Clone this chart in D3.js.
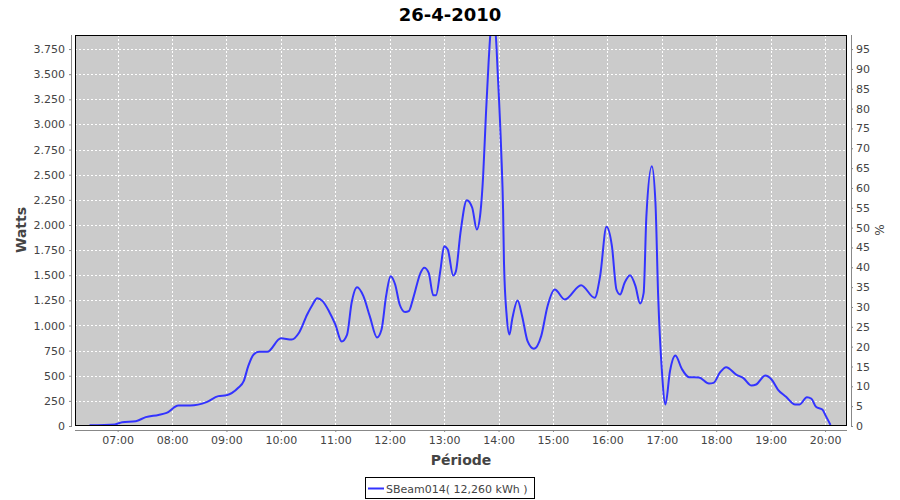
<!DOCTYPE html>
<html><head><meta charset="utf-8">
<script src="https://cdn.jsdelivr.net/npm/d3@7"></script>
<style>body{margin:0;background:#fff}svg{display:block}</style>
</head><body><svg id="c" width="900" height="500"></svg>
<script>
const title = "26-4-2010";
const seriesName = "SBeam014( 12,260 kWh )";
const times = ["06:29","06:57","07:05","07:20","07:31","07:45","07:54","08:07","08:20","08:38","08:51","09:00","09:13","09:19","09:24","09:30","09:36","09:45","10:00","10:12","10:20","10:29","10:35","10:40","10:46","10:53","11:00","11:07","11:13","11:18","11:24","11:31","11:38","11:46","11:51","11:56","12:01","12:06","12:11","12:17","12:21","12:26","12:34","12:38","12:43","12:48","12:51","12:56","13:00","13:04","13:10","13:13","13:18","13:25","13:31","13:36","13:40","13:43","13:46","13:49","13:52","13:54","13:57","13:59","14:03","14:05","14:06","14:09","14:12","14:15","14:21","14:26","14:32","14:39","14:47","14:54","15:02","15:13","15:31","15:46","15:52","15:59","16:05","16:10","16:14","16:19","16:25","16:31","16:36","16:40","16:43","16:49","16:53","16:56","17:00","17:04","17:09","17:15","17:22","17:30","17:41","17:52","17:57","18:04","18:11","18:22","18:30","18:39","18:44","18:54","19:01","19:08","19:17","19:27","19:32","19:40","19:45","19:50","19:57","20:01","20:06"];
const watts = [8,16,38,48,88,110,130,204,204,237,297,306,380,446,595,711,738,738,872,860,927,1109,1209,1272,1242,1142,1010,841,910,1226,1381,1292,1093,881,960,1292,1491,1408,1209,1133,1142,1275,1524,1574,1524,1301,1301,1557,1789,1756,1497,1540,1922,2247,2171,1955,2121,2485,3082,3614,3990,4030,3880,3530,2718,2154,1624,1093,910,1060,1249,1093,844,768,894,1192,1358,1259,1401,1275,1491,1982,1789,1358,1308,1425,1500,1391,1219,1325,2088,2585,2221,1292,562,214,545,701,569,486,483,423,429,530,585,512,476,403,413,502,463,363,290,214,214,287,271,191,164,98,10];
const wattTicks = [0,250,500,750,1000,1250,1500,1750,2000,2250,2500,2750,3000,3250,3500,3750];
const wattLabels = ["0","250","500","750","1.000","1.250","1.500","1.750","2.000","2.250","2.500","2.750","3.000","3.250","3.500","3.750"];
const pctTicks = [0,5,10,15,20,25,30,35,40,45,50,55,60,65,70,75,80,85,90,95];
const hourTicks = ["07:00","08:00","09:00","10:00","11:00","12:00","13:00","14:00","15:00","16:00","17:00","18:00","19:00","20:00"];

const parse = d3.timeParse("%H:%M");
const data = times.map((t,i)=>({t:parse(t), w:watts[i]}));
const svg = d3.select("#c");
const L=75,R=847,T=35,B=426;
const font = "DejaVu Sans, Tahoma, sans-serif";
const x = d3.scaleTime().domain([parse("06:13"), new Date(parse("20:24").getTime()+12000)]).range([L,R]);
const y = d3.scaleLinear().domain([0,3890]).range([B,T]);
const y2 = d3.scaleLinear().domain([0,98.55]).range([B,T]);

svg.append("text").attr("x",450).attr("y",21).attr("text-anchor","middle")
  .attr("font-family",font).attr("font-weight","bold").attr("font-size",18).text(title);

svg.append("rect").attr("x",L).attr("y",T).attr("width",R-L).attr("height",B-T).attr("fill","#cbcbcb");
// grid
const g = svg.append("g");
g.selectAll("line.h").data(wattTicks.filter(d=>d>0)).join("line")
  .attr("x1",L).attr("x2",R).attr("y1",d=>Math.round(y(d))+0.5).attr("y2",d=>Math.round(y(d))+0.5)
  .attr("stroke","#fff").attr("stroke-dasharray","2,2");
g.selectAll("line.v").data(hourTicks).join("line")
  .attr("y1",T).attr("y2",B).attr("x1",d=>Math.round(x(parse(d)))+0.5).attr("x2",d=>Math.round(x(parse(d)))+0.5)
  .attr("stroke","#fff").attr("stroke-dasharray","2,2");

svg.append("clipPath").attr("id","clip").append("rect").attr("x",L).attr("y",T).attr("width",R-L).attr("height",B-T);
const line = d3.line().x(d=>x(d.t)).y(d=>y(d.w)).curve(d3.curveMonotoneX);
svg.append("path").datum(data).attr("clip-path","url(#clip)").attr("d",line)
  .attr("fill","none").attr("stroke","#3333ff").attr("stroke-width",2);

svg.append("rect").attr("x",L+0.5).attr("y",T+0.5).attr("width",R-L-1).attr("height",B-T-1)
  .attr("fill","none").attr("stroke","#000").attr("stroke-width",1);

// left axis
const la = svg.append("g").attr("transform","translate(71,0)")
  .call(d3.axisLeft(y).tickValues(wattTicks).tickFormat((d,i)=>wattLabels[i]).tickSize(2).tickSizeOuter(0).tickPadding(4));
// right axis
const ra = svg.append("g").attr("transform","translate(851,0)")
  .call(d3.axisRight(y2).tickValues(pctTicks).tickSize(2).tickSizeOuter(0).tickPadding(3));
// x axis
const xa = svg.append("g").attr("transform","translate(0,430)")
  .call(d3.axisBottom(x).tickValues(hourTicks.map(parse)).tickFormat(d3.timeFormat("%H:%M")).tickSize(2).tickSizeOuter(0).tickPadding(4));
[la,ra,xa].forEach(a=>{
  a.selectAll("path.domain").attr("stroke","#888");
  a.selectAll(".tick line").attr("stroke","#888");
  a.selectAll("text").attr("font-family",font).attr("font-size",11).attr("fill","#444");
});
la.select("path.domain").attr("d",`M0.5,${T}V${B+1}`);
ra.select("path.domain").attr("d",`M0.5,${T}V${B+1}`);
xa.select("path.domain").attr("d",`M${L},0.5H${R}`);

svg.append("text").attr("transform","translate(26,230) rotate(-90)").attr("text-anchor","middle")
  .attr("font-family",font).attr("font-weight","bold").attr("font-size",14).attr("fill","#444").text("Watts");
svg.append("text").attr("transform","translate(884,230) rotate(-90)").attr("text-anchor","middle")
  .attr("font-family",font).attr("font-size",12).attr("fill","#444").text("%");
svg.append("text").attr("x",461).attr("y",465).attr("text-anchor","middle")
  .attr("font-family",font).attr("font-weight","bold").attr("font-size",14).attr("fill","#444").text("Période");

// legend
const lg = svg.append("g");
lg.append("rect").attr("x",365.5).attr("y",477.5).attr("width",169).attr("height",21).attr("fill","#fff").attr("stroke","#000");
lg.append("line").attr("x1",368).attr("x2",384).attr("y1",488.5).attr("y2",488.5).attr("stroke","#3333ff").attr("stroke-width",2);
lg.append("text").attr("x",386).attr("y",493).attr("font-family",font).attr("font-size",11).attr("fill","#444").text(seriesName);
</script></body></html>
